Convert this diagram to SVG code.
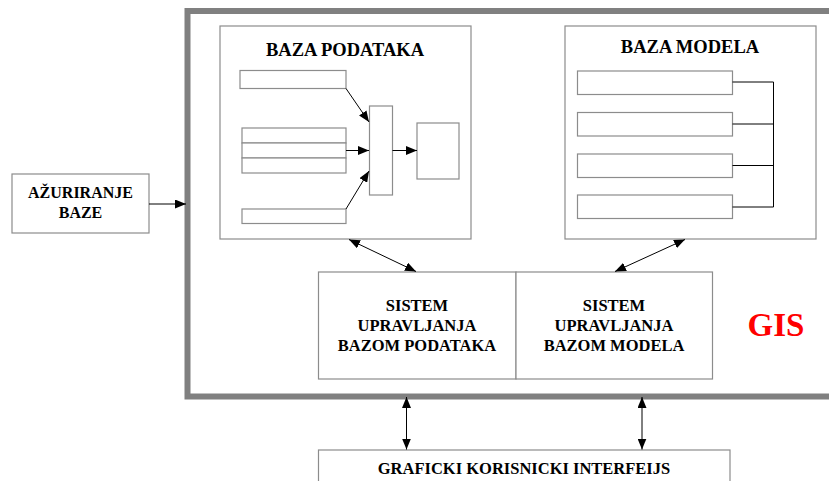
<svg xmlns="http://www.w3.org/2000/svg" width="829" height="481" viewBox="0 0 829 481">
<defs>
<marker id="ah" markerWidth="11" markerHeight="9" refX="11" refY="4.5" orient="auto-start-reverse" markerUnits="userSpaceOnUse">
<path d="M0,0 L11,4.5 L0,9 z" fill="#000"/>
</marker>
<style>
.box{fill:#fff;stroke:#8c8c8c;stroke-width:1.2}
text{font-family:'Liberation Serif','Times New Roman','DejaVu Serif',serif;font-weight:bold;fill:#000;text-anchor:middle}
.ln{stroke:#000;stroke-width:1;fill:none}
.ar{stroke:#000;stroke-width:1;fill:none;marker-end:url(#ah)}
.ar2{stroke:#000;stroke-width:1;fill:none;marker-end:url(#ah);marker-start:url(#ah)}
</style>
</defs>
<rect width="829" height="481" fill="#fff"/>
<g id="gis">
<rect x="187.5" y="11" width="700" height="385.5" fill="none" stroke="#808080" stroke-width="6"/>
<text x="776" y="336" font-family="Liberation Serif, serif" font-size="33" fill="#ff0000" style="fill:#ff0000">GIS</text>
</g>
<g id="azuriranje" font-family="Liberation Serif, serif">
<rect class="box" x="12" y="174" width="137" height="59"/>
<text x="80.5" y="198" font-size="16">AŽURIRANJE</text>
<text x="80.5" y="218" font-size="16">BAZE</text>
</g>
<g id="baza-podataka">
<rect class="box" x="220" y="26" width="251" height="213"/>
<text x="345" y="56" font-size="18.5">BAZA PODATAKA</text>
<rect class="box" x="240" y="70.5" width="106" height="18"/>
<rect class="box" x="242" y="128" width="104" height="15"/>
<rect class="box" x="242" y="143" width="104" height="15"/>
<rect class="box" x="242" y="158" width="104" height="15"/>
<rect class="box" x="242" y="209" width="104" height="14.5"/>
<rect class="box" x="369.5" y="106" width="23" height="89"/>
<rect class="box" x="417" y="123" width="42" height="56"/>
</g>
<g id="baza-modela">
<rect class="box" x="565" y="26" width="251" height="213"/>
<text x="690" y="52.5" font-size="18.5">BAZA MODELA</text>
<rect class="box" x="577.5" y="71" width="155" height="23.5"/>
<rect class="box" x="577.5" y="112.5" width="155" height="23.5"/>
<rect class="box" x="577.5" y="154" width="155" height="23.5"/>
<rect class="box" x="577.5" y="195" width="155" height="23.5"/>
</g>
<g id="sistem-podataka">
<rect class="box" x="318.5" y="272" width="197.5" height="107"/>
<text x="417" y="311" font-size="16.5">SISTEM</text>
<text x="417" y="331" font-size="16.5">UPRAVLJANJA</text>
<text x="417" y="351" font-size="16.5">BAZOM PODATAKA</text>
</g>
<g id="sistem-modela">
<rect class="box" x="516" y="272" width="196.5" height="107"/>
<text x="614" y="311" font-size="16.5">SISTEM</text>
<text x="614" y="331" font-size="16.5">UPRAVLJANJA</text>
<text x="614" y="351" font-size="16.5">BAZOM MODELA</text>
</g>
<g id="gui">
<rect class="box" x="318.5" y="450" width="411.5" height="40"/>
<text x="524" y="473.5" font-size="16.5">GRAFICKI KORISNICKI INTERFEIJS</text>
</g>
<g id="connectors">
<line class="ar" x1="149" y1="204" x2="186" y2="204"/>
<line class="ar" x1="346" y1="88.5" x2="369" y2="122"/>
<line class="ar" x1="346" y1="150.5" x2="369" y2="150.5"/>
<line class="ar" x1="346" y1="209" x2="369" y2="171"/>
<line class="ar" x1="392.5" y1="150.5" x2="417" y2="150.5"/>
<path class="ln" d="M732.5,82 H773.5 V207 H732.5 M732.5,124 H773.5 M732.5,165.5 H773.5"/>
<line class="ar2" x1="349" y1="239.5" x2="416" y2="271.5"/>
<line class="ar2" x1="685" y1="239.5" x2="615" y2="271.5"/>
<line class="ar2" x1="406.5" y1="397" x2="406.5" y2="449.5"/>
<line class="ar2" x1="642" y1="397" x2="642" y2="449.5"/>
</g>
</svg>
